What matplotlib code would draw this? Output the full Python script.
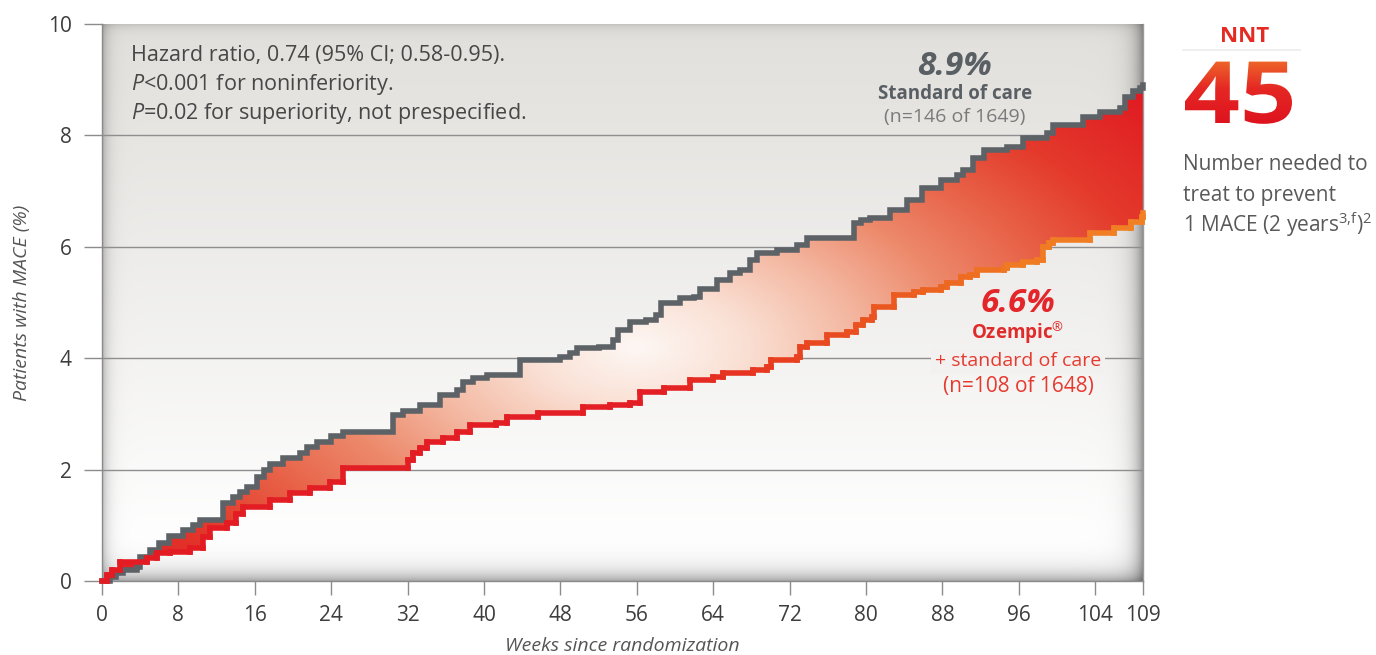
import numpy as np
import matplotlib
matplotlib.use('Agg')
import matplotlib.pyplot as plt
from matplotlib.collections import LineCollection
from matplotlib.colors import LinearSegmentedColormap
from matplotlib.textpath import TextPath
from matplotlib.patches import PathPatch
from matplotlib.font_manager import FontProperties
from matplotlib.transforms import Affine2D

plt.rcParams['font.family'] = ['Open Sans', 'DejaVu Sans']
plt.rcParams['mathtext.fontset'] = 'custom'
plt.rcParams['mathtext.rm'] = 'Open Sans'
plt.rcParams['mathtext.it'] = 'Open Sans:italic'
plt.rcParams['mathtext.bf'] = 'Open Sans:bold'

# ---------------- data ----------------
soc_weeks = [0, 0.8, 1.5, 2.2, 3.7, 4.0, 5.0, 6.0, 7.0, 8.5, 9.5, 10.3, 12.7, 13.7, 14.5,
             15.2, 16.2, 17.0, 17.6, 19.0, 20.7, 21.5, 22.5, 24.0, 25.2, 30.5, 31.5, 33.3,
             35.4, 37.2, 37.8, 38.8, 40.3, 43.8, 48.0, 49.0, 49.7, 52.0, 53.5, 54.0, 55.3,
             57.0, 58.0, 58.5, 60.5, 62.0, 62.6, 64.4, 65.8, 66.8, 67.9, 68.6, 70.7, 72.8,
             73.8, 78.7, 79.5, 80.4, 82.5, 84.3, 85.9, 87.8, 89.5, 90.2, 91.2, 92.3, 94.8,
             96.4, 98.9, 99.6, 102.7, 104.5, 106.6, 107.1, 108.0, 108.7, 109]
soc_pct = [0, 0.08, 0.15, 0.2, 0.25, 0.43, 0.55, 0.68, 0.8, 0.92, 1.0, 1.1, 1.4, 1.5, 1.6,
           1.69, 1.87, 2.0, 2.1, 2.2, 2.3, 2.4, 2.5, 2.6, 2.67, 2.98, 3.05, 3.16,
           3.34, 3.43, 3.57, 3.65, 3.7, 3.97, 4.02, 4.1, 4.18, 4.2, 4.33, 4.5, 4.65,
           4.68, 4.78, 5.0, 5.08, 5.1, 5.24, 5.4, 5.53, 5.58, 5.76, 5.89, 5.94, 6.03,
           6.16, 6.43, 6.48, 6.52, 6.66, 6.84, 7.05, 7.2, 7.29, 7.38, 7.6, 7.74, 7.79,
           7.95, 8.04, 8.19, 8.33, 8.42, 8.5, 8.69, 8.8, 8.85, 8.9]

oze_weeks = [0, 0.5, 1.0, 1.9, 4.7, 5.8, 7.1, 9.2, 10.6, 11.3, 13.1, 14.0, 14.8, 17.6, 19.7,
             21.8, 23.9, 25.2, 32.0, 32.6, 33.3, 34.0, 35.7, 37.2, 38.5, 41.3, 42.4, 45.6,
             50.4, 53.2, 55.3, 56.3, 58.8, 61.6, 64.0, 65.0, 68.2, 69.6, 70.0, 72.8, 73.1,
             73.8, 75.9, 78.0, 79.0, 79.7, 80.6, 80.8, 82.9, 85.0, 86.0, 87.8, 88.5, 89.9,
             90.9, 91.6, 94.4, 94.8, 96.4, 97.9, 98.5, 99.2, 99.6, 103.5, 106.0, 107.7,
             108.9, 109]
oze_pct = [0, 0.1, 0.2, 0.34, 0.41, 0.5, 0.52, 0.59, 0.79, 0.95, 1.04, 1.2, 1.33, 1.45, 1.58,
           1.67, 1.78, 2.03, 2.17, 2.3, 2.39, 2.5, 2.57, 2.68, 2.8, 2.84, 2.95, 3.01,
           3.12, 3.16, 3.2, 3.4, 3.46, 3.6, 3.66, 3.73, 3.79, 3.84, 3.97, 4.02, 4.2,
           4.27, 4.42, 4.47, 4.6, 4.69, 4.74, 4.92, 5.13, 5.19, 5.22, 5.28, 5.35, 5.46,
           5.5, 5.58, 5.62, 5.67, 5.73, 5.76, 6.0, 6.07, 6.12, 6.25, 6.34, 6.45,
           6.54, 6.6]

x_ticks = [0, 8, 16, 24, 32, 40, 48, 56, 64, 72, 80, 88, 96, 104, 109]
y_ticks = [0, 2, 4, 6, 8, 10]
grid_levels = [2, 4, 6, 8]

# ---------------- figure ----------------
W, H = 1376, 655
fig = plt.figure(figsize=(W / 100, H / 100), dpi=100)
fig.patch.set_facecolor('white')
L, R, B, T = 102, 1143, 581, 24
ax = fig.add_axes([L / W, 1 - B / H, (R - L) / W, (B - T) / H])
XMAX, YMAX = 109, 10

# background panel: vertical gradient + inner shadows
nh, nw = B - T, R - L
v = np.linspace(0, 1, nh)[:, None]
top = np.array([0.885, 0.880, 0.866])
f = np.clip(v / 0.93, 0, 1) ** 1.15
base = top[None, None, :] + (1 - top)[None, None, :] * f[..., None]
base = np.broadcast_to(base, (nh, nw, 3)).copy()
dl = np.arange(nw)[None, :]
dr = (nw - 1 - np.arange(nw))[None, :]
dt = np.arange(nh)[:, None]
db = (nh - 1 - np.arange(nh))[:, None]
shade = ((1 - 0.25 * np.exp(-dl / 6.0)) * (1 - 0.38 * np.exp(-dr / 9.0)) *
         (1 - 0.12 * np.exp(-dt / 5.0)) * (1 - 0.33 * np.exp(-db / 10.0)))
bg = np.clip(base * shade[..., None], 0, 1)
ax.imshow(bg, extent=[0, XMAX, 0, YMAX], aspect='auto', zorder=0, interpolation='bilinear')

for g in grid_levels:
    ax.axhline(g, color='#8e8e8e', lw=1.0, zorder=1)

# filled band between curves with radial gradient
sw = np.array(soc_weeks); sp = np.array(soc_pct)
ow = np.array(oze_weeks); op = np.array(oze_pct)
xs = np.unique(np.concatenate([sw, ow]))
s_on = sp[np.searchsorted(sw, xs, side='right') - 1]
o_on = op[np.searchsorted(ow, xs, side='right') - 1]
band = ax.fill_between(xs, o_on, s_on, step='post', facecolor='none', edgecolor='none', zorder=2)

gx = np.linspace(0, XMAX, 600)
gy = np.linspace(YMAX, 0, 300)
GX, GY = np.meshgrid(gx, gy)
tt = np.sqrt(((GX - 56) / 45.0) ** 2 + ((GY - 4.2) / 4.2) ** 2)
fill_cmap = LinearSegmentedColormap.from_list('fillgrad', [
    (0.00, (253/255, 247/255, 244/255)),
    (0.25/1.6, (250/255, 224/255, 212/255)),
    (0.50/1.6, (244/255, 185/255, 163/255)),
    (0.75/1.6, (237/255, 138/255, 108/255)),
    (1.00/1.6, (232/255, 98/255, 72/255)),
    (1.25/1.6, (228/255, 58/255, 44/255)),
    (1.60/1.6, (224/255, 27/255, 34/255))])
im = ax.imshow(np.clip(tt / 1.6, 0, 1), cmap=fill_cmap, vmin=0, vmax=1,
               extent=[0, XMAX, 0, YMAX], aspect='auto', zorder=2, interpolation='bilinear')
im.set_clip_path(band.get_paths()[0], band.get_transform())


def step_vertices(x, y):
    vx, vy = [x[0]], [y[0]]
    for i in range(1, len(x)):
        vx += [x[i], x[i]]
        vy += [y[i - 1], y[i]]
    return np.array(vx), np.array(vy)

# standard of care line (grey)
gxv, gyv = step_vertices(soc_weeks, soc_pct)
ax.plot(gxv, gyv, color='#5d6267', lw=4.0, solid_joinstyle='miter', zorder=3, clip_on=False)

# Ozempic line: red shifting to orange
rxv, ryv = step_vertices(oze_weeks, oze_pct)
segs = np.stack([np.column_stack([rxv[:-1], ryv[:-1]]), np.column_stack([rxv[1:], ryv[1:]])], axis=1)
mid = (rxv[:-1] + rxv[1:]) / 2
stops_x = [0, 58, 72, 86, 96, 109]
stops_c = np.array([(227, 28, 36), (227, 30, 36), (232, 64, 32), (236, 96, 32), (240, 122, 35), (241, 128, 36)]) / 255
cols = np.column_stack([np.interp(mid, stops_x, stops_c[:, k]) for k in range(3)])
lc = LineCollection(segs, colors=cols, linewidths=4.0, capstyle='projecting', joinstyle='miter', zorder=4)
lc.set_clip_on(False)
ax.add_collection(lc)

ax.set_xlim(0, XMAX)
ax.set_ylim(0, YMAX)
ax.set_xticks(x_ticks)
ax.set_yticks(y_ticks)
ax.set_xticklabels([str(t) for t in x_ticks])
ax.set_yticklabels([str(t) for t in y_ticks])
ax.tick_params(axis='y', length=13, width=1.0, color='#8c8c8c', pad=9, labelsize=15, labelcolor='#3d3d3d')
ax.tick_params(axis='x', length=10, width=1.0, color='#8c8c8c', pad=7, labelsize=15, labelcolor='#3d3d3d')
ax.spines['top'].set_visible(False)
ax.spines['left'].set_color('#8a8a8a')
ax.spines['bottom'].set_color('#8a8a8a')
ax.spines['right'].set_color('#9a9a9a')
for s in ['left', 'bottom', 'right']:
    ax.spines[s].set_linewidth(1.0)

# ---------------- overlay in pixel coordinates for texts ----------------
ov = fig.add_axes([0, 0, 1, 1])
ov.patch.set_visible(False)
ov.axis('off')

txt = '#474747'
fs_note = 15.5
ov.text(131, 61, 'Hazard ratio, 0.74 (95% CI; 0.58-0.95).', fontsize=fs_note, color=txt, va='baseline')
ov.text(131, 90, r'$\mathit{P}$<0.001 for noninferiority.', fontsize=fs_note, color=txt, va='baseline')
ov.text(131, 119, r'$\mathit{P}$=0.02 for superiority, not prespecified.', fontsize=fs_note, color=txt, va='baseline')

grey_t = '#5a5f64'
ov.text(955, 75, '8.9%', fontsize=24, fontweight='bold', style='italic', color=grey_t, ha='center', va='baseline')
ov.text(955, 99, 'Standard of care', fontsize=13.5, fontweight='bold', color=grey_t, ha='center', va='baseline')
ov.text(955, 122, '(n=146 of 1649)', fontsize=14, color='#7a7a7a', ha='center', va='baseline')

red_t = '#e3262a'
ov.text(1018, 312, '6.6%', fontsize=24, fontweight='bold', style='italic', color=red_t, ha='center', va='baseline')
ov.text(1018, 340, r'Ozempic$^{\circledR}$', fontsize=13.5, fontweight='bold', color='#e02b2b', ha='center', va='baseline')
ov.text(1018, 366, '+ standard of care', fontsize=14, color='#e63a30', ha='center', va='baseline',
        bbox=dict(boxstyle='square,pad=0.2', facecolor='#f2f1ef', edgecolor='none'))
ov.text(1018, 392, '(n=108 of 1648)', fontsize=15, color='#e63a30', ha='center', va='baseline')

fig.text(22 / W, 1 - 303 / H, 'Patients with MACE (%)', rotation=90, fontsize=14, style='italic',
         color='#555555', ha='center', va='center')
fig.text(622 / W, 1 - 646 / H, 'Weeks since randomization', fontsize=14, style='italic',
         color='#555555', ha='center', va='center')

# NNT block
ov.text(1245, 42, 'NNT', fontsize=16, fontweight='bold', color='#e42a22', ha='center', va='baseline')
ov.plot([1183, 1300], [50, 50], color='#ececec', lw=1.2)
fp = FontProperties(family='Open Sans', weight='bold')
tp = TextPath((0, 0), '45', size=86, prop=fp)
ext = tp.get_extents()
sx = 107.0 / ext.width
tr = Affine2D().translate(-ext.x0, 0).scale(sx, -1).translate(1185, 123) + ov.transData
patch = PathPatch(tp, transform=tr, facecolor='none', edgecolor='none')
ov.add_patch(patch)
gv = np.linspace(0, 1, 200)[:, None]
num_cmap = LinearSegmentedColormap.from_list('numgrad', [
    (0.0, (238/255, 108/255, 42/255)), (0.45, (229/255, 40/255, 36/255)), (1.0, (222/255, 18/255, 30/255))])
im2 = ov.imshow(np.repeat(gv, 10, axis=1), cmap=num_cmap, vmin=0, vmax=1,
                extent=[1180, 1300, 125, 58], aspect='auto', zorder=5, interpolation='bilinear')
im2.set_clip_path(patch)

body = '#595959'
ov.text(1183, 170, 'Number needed to', fontsize=15, color=body, va='baseline')
ov.text(1183, 201, 'treat to prevent', fontsize=15, color=body, va='baseline')
ov.text(1183, 232, r'1 MACE (2 years$^{3{,}\mathrm{f}}$)$^{2}$', fontsize=15, color=body, va='baseline')

ov.set_xlim(0, W)
ov.set_ylim(H, 0)

fig.savefig('out.png', dpi=100, facecolor='white')
